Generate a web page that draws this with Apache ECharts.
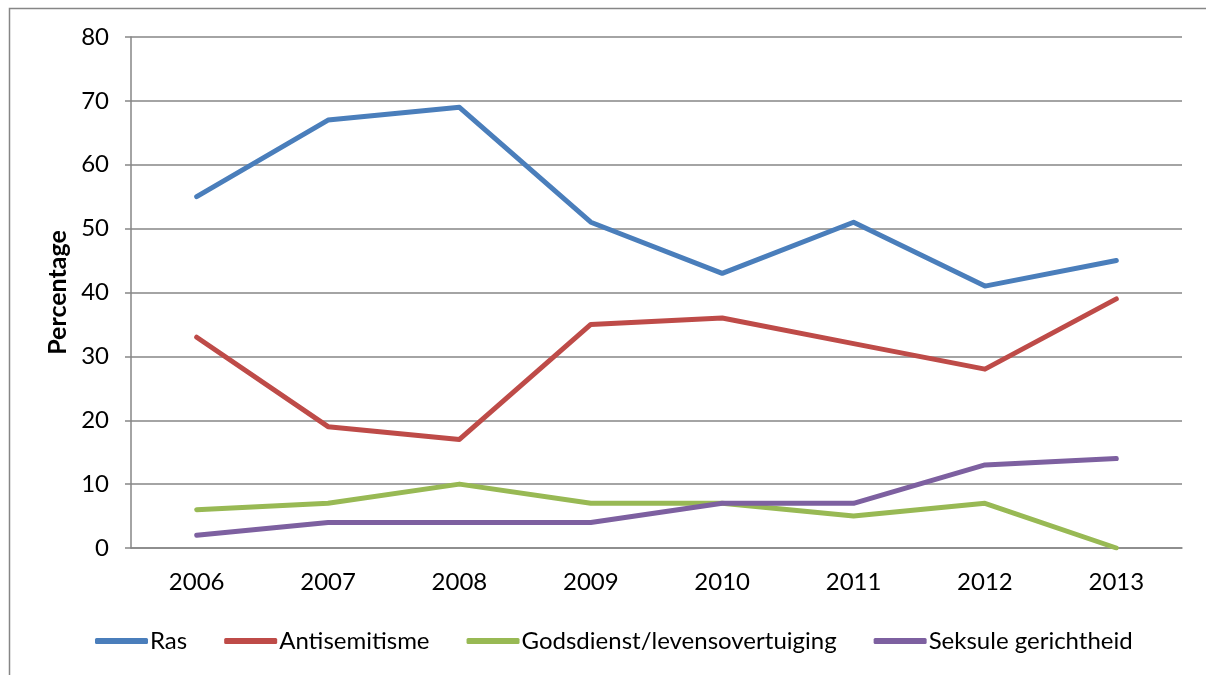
<!DOCTYPE html>
<html>
<head>
<meta charset="utf-8">
<script src="https://cdn.jsdelivr.net/npm/echarts@6/dist/echarts.min.js"></script>
<style>html,body{margin:0;padding:0;background:#fff}#c{width:1206px;height:675px}</style>
</head>
<body>
<div id="c"></div>
<script>
const years = ['2006','2007','2008','2009','2010','2011','2012','2013'];
const ras = [55, 67, 69, 51, 43, 51, 41, 45];
const antisemitisme = [33, 19, 17, 35, 36, 32, 28, 39];
const godsdienst = [6, 7, 10, 7, 7, 5, 7, 0];
const seksule = [2, 4, 4, 4, 7, 7, 13, 14];
const seriesNames = ['Ras', 'Antisemitisme', 'Godsdienst/levensovertuiging', 'Seksule gerichtheid'];
const colors = ['#4a7ebb', '#be4b48', '#98b954', '#7d60a0'];
const values = [ras, antisemitisme, godsdienst, seksule];

const FONT = 'Lato';
const chart = echarts.init(document.getElementById('c'));
chart.setOption({
  animation: false,
  textStyle: { fontFamily: FONT },
  graphic: [{
    type: 'rect', left: 7, top: 6,
    shape: { width: 1400, height: 800 },
    style: { fill: 'none', stroke: '#868686', lineWidth: 1.5 }, z: -1
  }],
  grid: { left: 131, right: 24, top: 37, bottom: 127 },
  legend: {
    left: 90, top: 624,
    itemWidth: 53, itemHeight: 6, itemGap: 37,
    icon: 'roundRect',
    textStyle: { fontFamily: FONT, fontSize: 24, color: '#000', padding: [0, 0, 0, -3] },
    data: seriesNames
  },
  xAxis: {
    type: 'category', data: years, boundaryGap: true,
    axisLine: { lineStyle: { color: '#868686', width: 1.5 } },
    axisTick: { show: false },
    axisLabel: { color: '#000', fontSize: 24, fontFamily: FONT, margin: 22 }
  },
  yAxis: {
    type: 'value', min: 0, max: 80, interval: 10,
    name: 'Percentage', nameLocation: 'middle', nameGap: 60, nameRotate: 90,
    nameTextStyle: { fontFamily: FONT, fontSize: 25, fontWeight: 'bold', color: '#000' },
    axisLine: { show: true, lineStyle: { color: '#868686', width: 1.5 } },
    axisTick: { show: true, length: 6, lineStyle: { color: '#868686', width: 1.5 } },
    splitLine: { lineStyle: { color: '#868686', width: 1.5 } },
    axisLabel: { color: '#000', fontSize: 24, fontFamily: FONT, margin: 22 }
  },
  series: seriesNames.map((n, i) => ({
    name: n, type: 'line', data: values[i],
    symbol: 'none', smooth: false,
    lineStyle: { color: colors[i], width: 5, cap: 'round', join: 'round' },
    itemStyle: { color: colors[i] }
  }))
});
</script>
</body>
</html>
